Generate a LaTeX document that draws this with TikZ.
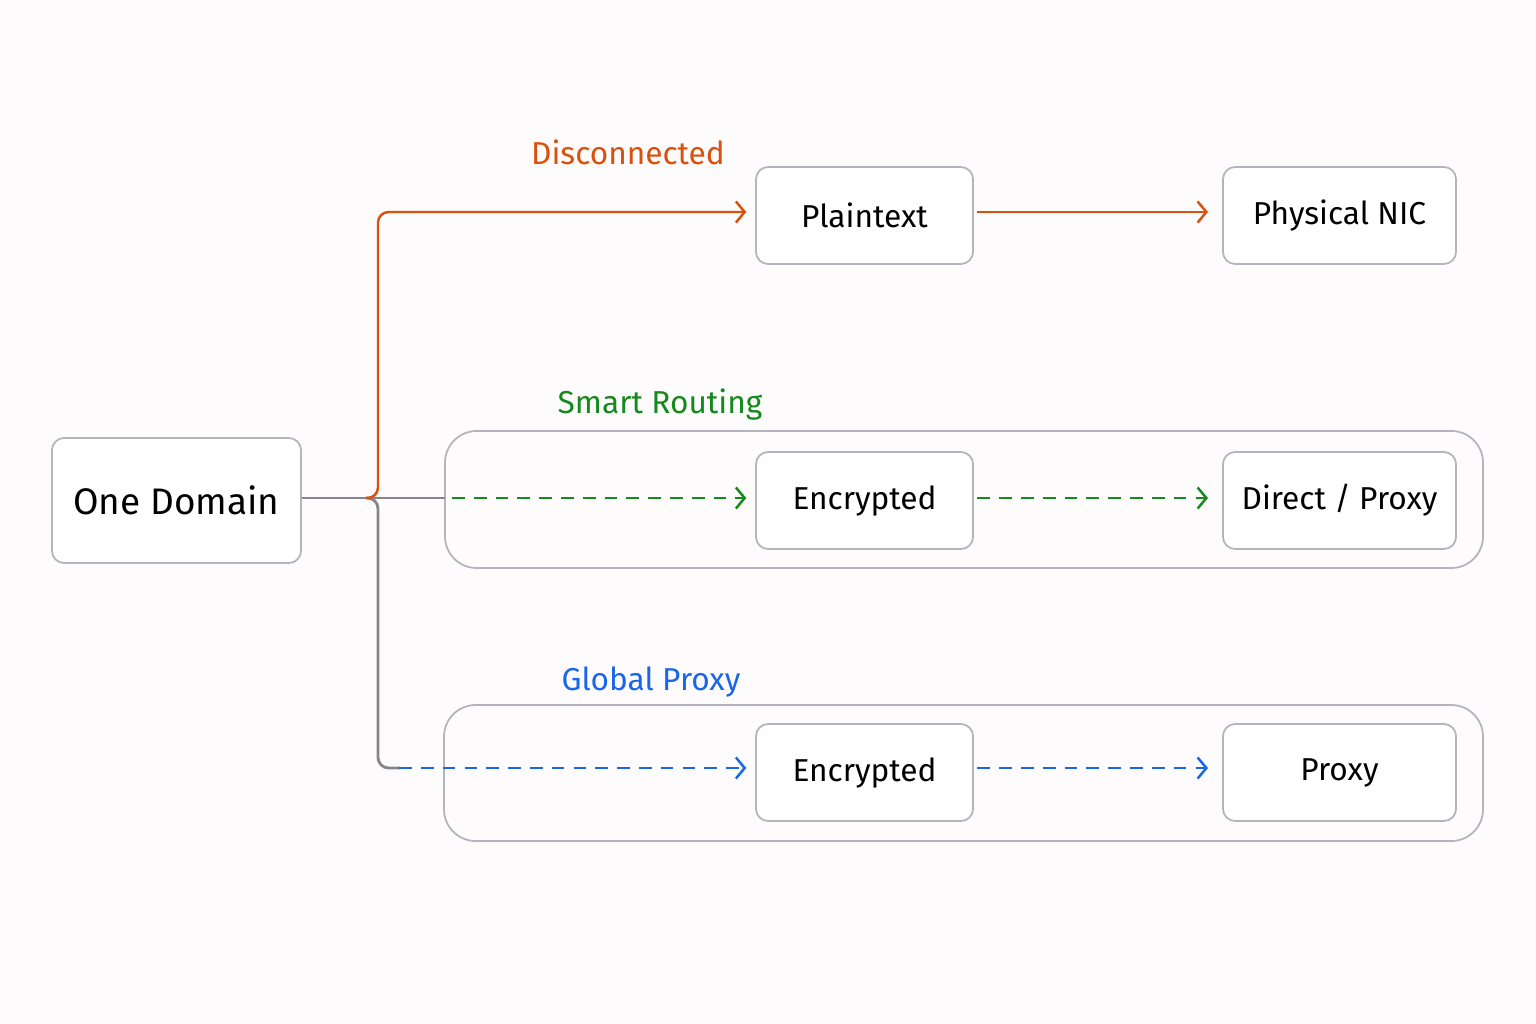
\documentclass[tikz,border=0pt]{standalone}
\usepackage{fontspec}
\setmainfont{Fira Sans}
\usetikzlibrary{arrows.meta}
\definecolor{bgc}{HTML}{FDFBFC}
\definecolor{boxc}{HTML}{B4B4BC}
\definecolor{orng}{HTML}{D9510C}
\definecolor{grn}{HTML}{15891C}
\definecolor{blu}{HTML}{1A66E8}
\definecolor{stem}{HTML}{85858D}
\tikzset{
  box/.style={draw=boxc, line width=0.5pt, rounded corners=3.5pt, fill=white, font=\fontsize{9}{11}\selectfont},
  group/.style={draw=boxc, line width=0.5pt, rounded corners=9pt},
  lbl/.style={font=\fontsize{9}{11}\selectfont},
  flow/.style={line width=0.7pt, -{Straight Barb[length=2.5pt,width=6pt]}},
  dflow/.style={flow, dash pattern=on 3.6pt off 2.6pt}
}
\begin{document}
\begin{tikzpicture}[x=0.01cm,y=-0.01cm]
\useasboundingbox[fill=bgc] (0,0) rectangle (1536,1024);
% Group frames
\draw[group] (445,431) rectangle (1483,568);
\draw[group] (444,705) rectangle (1483,841);

% Boxes
\node[box, minimum width=2.49cm, minimum height=1.25cm, font=\fontsize{10.5}{13}\selectfont] (dom) at (176.5,500.5) {One Domain};
\node[box, minimum width=2.17cm, minimum height=0.97cm] (plain) at (864.5,215.5) {Plaintext};
\node[box, minimum width=2.33cm, minimum height=0.97cm] (nic) at (1339.5,215.5) {Physical NIC};
\node[box, minimum width=2.17cm, minimum height=0.97cm] (enc1) at (864.5,500.5) {Encrypted};
\node[box, minimum width=2.33cm, minimum height=0.97cm] (dp) at (1339.5,500.5) {Direct / Proxy};
\node[box, minimum width=2.17cm, minimum height=0.97cm] (enc2) at (864.5,772.5) {Encrypted};
\node[box, minimum width=2.33cm, minimum height=0.97cm] (prx) at (1339.5,772.5) {Proxy};

% Labels
\node[lbl, text=orng] (ldis) at (628,152) {Disconnected};
\node[lbl, text=grn] (lsmart) at (660,405) {Smart Routing};
\node[lbl, text=blu] (lglob) at (651,682) {Global Proxy};

% Branch points
\coordinate (fork) at (378,498);
\coordinate (gend) at (445,498);
\coordinate (top) at (378,212);
\coordinate (bot) at (378,768);

% Connectors
\draw[stem, line width=0.8pt] (dom.east |- fork) -- (gend);
\draw[stem, line width=0.8pt, rounded corners=3pt] (366,498) -- (fork) -- (bot) -- ++(22,0);
\draw[orng, flow, rounded corners=3pt] (366,498) -- (fork) -- (top) -- ([xshift=-2.5pt]plain.west |- top);
\draw[orng, flow] ([xshift=1pt]plain.east |- top) -- ([xshift=-4pt]nic.west |- top);
\draw[grn, dflow] ([xshift=2pt]gend) -- ([xshift=-2.5pt]enc1.west |- fork);
\draw[grn, dflow] ([xshift=1pt]enc1.east |- fork) -- ([xshift=-4pt]dp.west |- fork);
\draw[blu, dflow] ([xshift=6]bot) -- ([xshift=-2.5pt]enc2.west |- bot);
\draw[blu, dflow] ([xshift=1pt]enc2.east |- bot) -- ([xshift=-4pt]prx.west |- bot);
\end{tikzpicture}
\end{document}
